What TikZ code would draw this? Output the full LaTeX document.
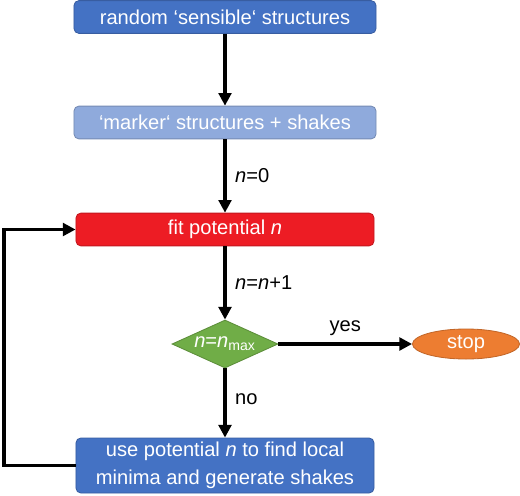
\documentclass[tikz,border=0pt]{standalone}
\usepackage{fontspec}
\setmainfont{Liberation Sans}
\usetikzlibrary{arrows.meta,shapes.geometric}
\definecolor{stepblue}{HTML}{4472C4}
\definecolor{steplight}{HTML}{8FAADC}
\definecolor{stepred}{HTML}{ED1C24}
\definecolor{stepgreen}{HTML}{70AD47}
\definecolor{steporange}{HTML}{ED7D31}

\begin{document}
\begin{tikzpicture}[
  x=0.025cm,
  y=-0.025cm,
  every node/.style={font=\fontsize{14.3}{19.5}\selectfont},
  stepbox/.style={rectangle, rounded corners=3.5pt, fill=#1, draw=#1!82!black,
                  line width=0.6pt, text=white, inner sep=0pt, align=center,
                  minimum width=7.45cm, minimum height=0.82cm},
  test/.style={diamond, aspect=2.2, fill=stepgreen, draw=stepgreen!82!black,
               line width=0.6pt, text=white, inner sep=0pt,
               minimum width=2.65cm, minimum height=1.2cm},
  halt/.style={ellipse, fill=steporange, draw=steporange!82!black,
               line width=0.6pt, text=white, inner sep=0pt,
               minimum width=2.675cm, minimum height=0.75cm},
  flow/.style={black, line width=2.5pt, -{Triangle[length=9pt,width=9pt]}},
  tag/.style={inner sep=6pt}
]
  % ---- fixed frame, the size of the reference ----
  \useasboundingbox (0,0) rectangle (520,495);

  % ---- steps ----
  \node[stepbox=stepblue, minimum width=7.55cm] (random) at (225,17)
    {random `sensible` structures};
  \node[stepbox=steplight, minimum width=7.55cm] (marker) at (225,122.5)
    {`marker` structures + shakes};
  \node[stepbox=stepred] (fit) at (225,229.5) {fit potential \textit{n}};
  \node[test] (check) at (225,344) {\textit{n}=\textit{n}\textsubscript{max}};
  \node[halt] (stop) at (466,344) {stop};
  \node[stepbox=stepblue, minimum height=1.375cm] (search) at (225,465.5)
    {use potential \textit{n} to find local\\minima and generate shakes};

  % ---- connectors ----
  \draw[flow] (random) -- (marker);
  \draw[flow] (marker) -- node[tag, right] {\textit{n}=0} (fit);
  \draw[flow] (fit) -- node[tag, right] {\textit{n}=\textit{n}+1} (check);
  \draw[flow] (check) -- node[tag, above, yshift=-1pt] {yes} (stop);
  \draw[flow] (check) -- node[tag, right, yshift=3pt] {no} (search);

  % ---- loop back to the fit ----
  \coordinate (back) at (4,465.5);
  \draw[flow] (search.west) -- (back) |- (fit.west);
\end{tikzpicture}
\end{document}
